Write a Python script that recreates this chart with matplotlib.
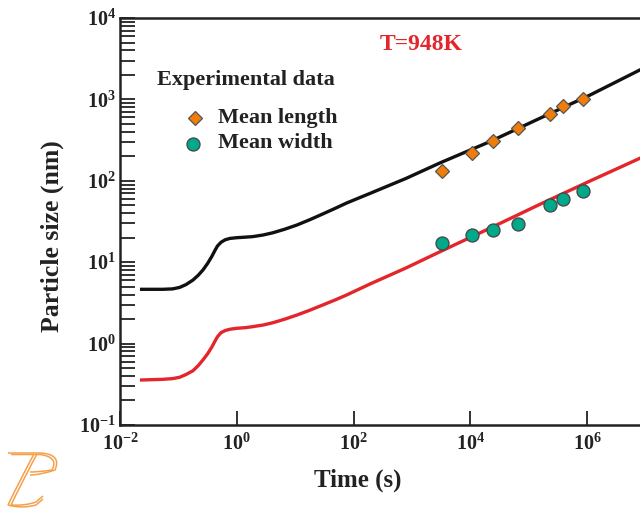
import math
import matplotlib
matplotlib.use("Agg")
import matplotlib.pyplot as plt
from matplotlib.path import Path
from matplotlib.patches import PathPatch
from matplotlib.transforms import Affine2D
from matplotlib.ticker import FixedLocator, FuncFormatter, LogLocator, NullLocator

plt.rcParams['font.family'] = ['Liberation Serif', 'DejaVu Serif']
plt.rcParams['font.weight'] = 'bold'
plt.rcParams['mathtext.fontset'] = 'custom'
plt.rcParams['mathtext.rm'] = 'Liberation Serif:bold'
plt.rcParams['mathtext.it'] = 'Liberation Serif:bold'
plt.rcParams['mathtext.bf'] = 'Liberation Serif:bold'

# ---- data (log10 values) ----
length_logt = [-1.63, -1.27, -1.10, -0.98, -0.87, -0.75, -0.66, -0.58, -0.50, -0.43, -0.37,
               -0.33, -0.27, -0.20, -0.12, 0.0, 0.15, 0.27, 0.45, 0.62, 0.82, 1.03, 1.25,
               1.47, 1.68, 1.88, 2.28, 2.90, 3.48, 4.33, 5.19, 6.05, 6.90, 7.50]
length_logy = [0.667, 0.667, 0.672, 0.690, 0.725, 0.781, 0.840, 0.904, 0.985, 1.068, 1.150,
               1.200, 1.245, 1.275, 1.292, 1.301, 1.308, 1.314, 1.334, 1.362, 1.405, 1.457, 1.522,
               1.592, 1.660, 1.727, 1.845, 2.030, 2.220, 2.480, 2.768, 3.054, 3.361, 3.570]

width_logt = [-1.63, -1.27, -1.10, -0.98, -0.87, -0.75, -0.66, -0.58, -0.50, -0.43, -0.37,
              -0.33, -0.27, -0.20, -0.12, 0.0, 0.15, 0.27, 0.45, 0.62, 0.82, 1.03, 1.25,
              1.47, 1.68, 1.88, 2.28, 2.90, 3.48, 4.33, 5.19, 6.05, 6.90, 7.50]
width_logy = [-0.447, -0.439, -0.430, -0.414, -0.380, -0.333, -0.270, -0.201, -0.125, -0.045, 0.035,
              0.085, 0.135, 0.160, 0.176, 0.188, 0.196, 0.208, 0.228, 0.257, 0.300, 0.351, 0.410,
              0.474, 0.535, 0.597, 0.732, 0.930, 1.129, 1.416, 1.711, 1.998, 2.276, 2.480]

exp_time = [3300, 10500, 24600, 66000, 234000, 390000, 850000]
exp_length = [132, 219, 309, 446, 660, 830, 1010]
exp_width = [17.3, 21.5, 25.0, 29.5, 50, 60, 75]

x_ticks = [1e-2, 1e0, 1e2, 1e4, 1e6]
y_ticks = [1e-1, 1e0, 1e1, 1e2, 1e3, 1e4]

RED = '#e3262b'
ORANGE = '#f07d0a'
TEAL = '#00a98a'
INK = '#222222'

fig = plt.figure(figsize=(6.4, 5.12), dpi=100)
# axes extends beyond the right edge of the figure (cropped original)
ax = fig.add_axes([120/640, 1 - 425/512, (704 - 120)/640, (425 - 18)/512])

ax.plot([10**v for v in length_logt], [10**v for v in length_logy], color='#111111', lw=2.4)
ax.plot([10**v for v in width_logt], [10**v for v in width_logy], color=RED, lw=2.4)
ax.plot(exp_time, exp_length, linestyle='none', marker='D', ms=6.8, mfc=ORANGE,
        mec='#555555', mew=0.9, zorder=5)
ax.plot(exp_time, exp_width, linestyle='none', marker='o', ms=9.4, mfc=TEAL,
        mec='#444444', mew=0.9, zorder=5)

ax.set_xscale('log')
ax.set_yscale('log')
ax.set_xlim(1e-2, 1e8)
ax.set_ylim(1e-1, 1e4)

def fmt(v, pos):
    e = int(round(math.log10(v)))
    return r'$10^{%d}$' % e

ax.xaxis.set_major_locator(FixedLocator(x_ticks))
ax.xaxis.set_minor_locator(NullLocator())
ax.yaxis.set_major_locator(FixedLocator(y_ticks))
ax.yaxis.set_minor_locator(LogLocator(base=10, subs=range(2, 10), numticks=20))
ax.xaxis.set_major_formatter(FuncFormatter(fmt))
ax.yaxis.set_major_formatter(FuncFormatter(fmt))
ax.yaxis.set_minor_formatter(FuncFormatter(lambda v, p: ''))

ax.tick_params(axis='both', which='both', direction='in', top=False, right=False,
               labelsize=14.5, width=1.3, colors=INK)
ax.tick_params(axis='x', which='major', length=10, pad=6)
ax.tick_params(axis='y', which='both', length=10.5, pad=3)

for s in ax.spines.values():
    s.set_linewidth(1.8)
    s.set_color(INK)

fig.text(358/640, 1 - 480/512, 'Time (s)', ha='center', va='center', fontsize=18,
         fontweight='bold', color=INK)
fig.text(52/640, 1 - 236/512, 'Particle size (nm)', ha='center', va='center', fontsize=18.5,
         fontweight='bold', rotation=90, color=INK)

fig.text(421/640, 1 - 44/512, 'T=948K', ha='center', va='center', fontsize=17,
         fontweight='bold', color=RED)
fig.text(157/640, 1 - 80/512, 'Experimental data', ha='left', va='center', fontsize=16,
         fontweight='bold', color=INK)
fig.text(218/640, 1 - 118/512, 'Mean length', ha='left', va='center', fontsize=16,
         fontweight='bold', color=INK)
fig.text(218/640, 1 - 143/512, 'Mean width', ha='left', va='center', fontsize=16,
         fontweight='bold', color=INK)
fig.lines.append(plt.Line2D([195/640], [1 - 118/512], transform=fig.transFigure, marker='D',
                            ms=6.8, mfc=ORANGE, mec='#555555', mew=0.9, linestyle='none'))
fig.lines.append(plt.Line2D([193/640], [1 - 144/512], transform=fig.transFigure, marker='o',
                            ms=9.4, mfc=TEAL, mec='#444444', mew=0.9, linestyle='none'))

# small orange watermark logo (bottom-left), drawn in pixel coordinates
pix = Affine2D().scale(1/640, -1/512).translate(0, 1) + fig.transFigure
logo_color = '#f5a04a'
for dx in (0, 3):
    bar = Path([(8 + dx, 453 + dx * 0.5), (40, 453 + dx * 0.5), (62 - dx, 454 + dx),
                (55 - dx, 470), (40, 475 - dx), (30, 475 - dx)],
               [Path.MOVETO, Path.LINETO, Path.CURVE3, Path.CURVE3, Path.CURVE3, Path.CURVE3])
    stem = Path([(34 + dx, 454), (20 + dx, 480), (8 + dx, 505), (22 + dx, 509 - dx),
                 (36, 505 - dx), (43, 499 - dx)],
                [Path.MOVETO, Path.CURVE3, Path.CURVE3, Path.CURVE3, Path.CURVE3, Path.LINETO])
    for p in (bar, stem):
        fig.patches.append(PathPatch(p, transform=pix, fill=False, edgecolor=logo_color, lw=1.1))

fig.savefig('out.png', dpi=100)
